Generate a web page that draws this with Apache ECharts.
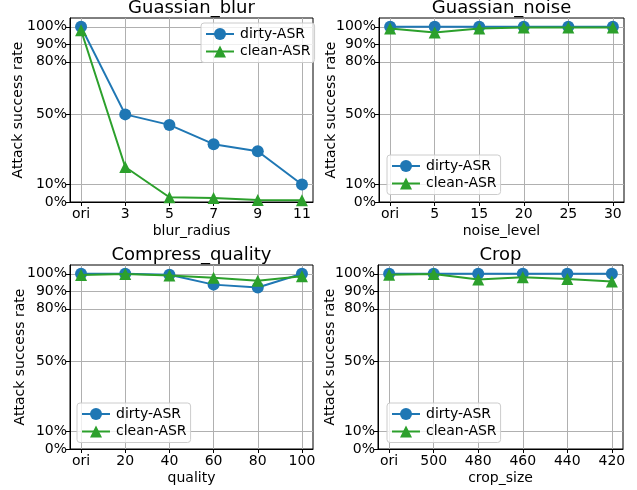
<!DOCTYPE html>
<html><head><meta charset="utf-8">
<script src="https://cdn.jsdelivr.net/npm/echarts@6/dist/echarts.min.js"></script>
<style>html,body{margin:0;padding:0;background:#fff}#c{width:637px;height:490px}</style>
</head><body><div id="c"></div>
<script>
// ---- data ----
const titles = ['Guassian_blur', 'Guassian_noise', 'Compress_quality', 'Crop'];
const xNames = ['blur_radius', 'noise_level', 'quality', 'crop_size'];
const seriesNames = ['dirty-ASR', 'clean-ASR'];
const blurLabels = ['ori', '3', '5', '7', '9', '11'];
const noiseLabels = ['ori', '5', '15', '20', '25', '30'];
const qualityLabels = ['ori', '20', '40', '60', '80', '100'];
const cropLabels = ['ori', '500', '480', '460', '440', '420'];
const blurDirty = [1.00, 0.50, 0.44, 0.33, 0.29, 0.10];
const blurClean = [0.98, 0.20, 0.027, 0.023, 0.012, 0.010];
const noiseDirty = [1.0, 1.0, 1.0, 1.0, 1.0, 1.0];
const noiseClean = [0.99, 0.967, 0.99, 0.996, 0.996, 0.996];
const qualityDirty = [1.0, 1.0, 0.994, 0.938, 0.922, 1.0];
const qualityClean = [0.993, 0.998, 0.99, 0.977, 0.96, 0.986];
const cropDirty = [1.0, 1.0, 1.0, 1.0, 1.0, 1.0];
const cropClean = [0.994, 0.998, 0.967, 0.98, 0.97, 0.956];
const yTicks = [0, 0.1, 0.5, 0.8, 0.9, 1.0];

// ---- layout / style ----
const FONT = 'DejaVu Sans';
const panels = [
  { labels: blurLabels, dirty: blurDirty, clean: blurClean,
    grid: { left: 70, top: 18, width: 243, height: 184 }, yGap: 45, legend: { left: 201, top: 23 } },
  { labels: noiseLabels, dirty: noiseDirty, clean: noiseClean,
    grid: { left: 379, top: 18, width: 245, height: 184 }, yGap: 41, legend: { left: 387, top: 155 } },
  { labels: qualityLabels, dirty: qualityDirty, clean: qualityClean,
    grid: { left: 70, top: 265, width: 243, height: 184 }, yGap: 42.5, legend: { left: 77, top: 403 } },
  { labels: cropLabels, dirty: cropDirty, clean: cropClean,
    grid: { left: 378, top: 265, width: 245, height: 184 }, yGap: 40.5, legend: { left: 387, top: 403 } }
];
const BLUE = '#1f77b4', GREEN = '#2ca02c';
const xIdx = [0, 1, 2, 3, 4, 5];

const grids = [], xAxes = [], yAxes = [], series = [], legends = [], graphics = [];
panels.forEach((p, i) => {
  grids.push(Object.assign({ show: true, borderColor: '#000', borderWidth: 1, backgroundColor: 'transparent' }, p.grid));
  xAxes.push({
    type: 'value', gridIndex: i, min: -0.25, max: 5.25,
    name: xNames[i], nameLocation: 'middle', nameGap: 22, nameMoveOverlap: false,
    nameTextStyle: { fontFamily: FONT, fontSize: 14, color: '#000' },
    axisLine: { show: true, onZero: false, lineStyle: { color: '#000', width: 1 } },
    axisTick: { show: true, length: 4, customValues: xIdx, lineStyle: { color: '#000' } },
    axisLabel: { customValues: xIdx, margin: 5, fontFamily: FONT, fontSize: 14, color: '#000',
      formatter: v => p.labels[Math.round(v)] },
    splitLine: { show: true, lineStyle: { color: '#b0b0b0', width: 1 } }
  });
  yAxes.push({
    type: 'value', gridIndex: i, min: 0, max: 1.05,
    name: 'Attack success rate', nameLocation: 'middle', nameGap: p.yGap, nameMoveOverlap: false,
    nameTextStyle: { fontFamily: FONT, fontSize: 14, color: '#000' },
    axisLine: { show: true, onZero: false, lineStyle: { color: '#000', width: 1 } },
    axisTick: { show: true, length: 4, customValues: yTicks, lineStyle: { color: '#000' } },
    axisLabel: { customValues: yTicks, margin: 3, fontFamily: FONT, fontSize: 14, color: '#000',
      formatter: v => Math.round(v * 100) + '%' },
    splitLine: { show: true, lineStyle: { color: '#b0b0b0', width: 1 } }
  });
  [[p.dirty, BLUE, 'circle'], [p.clean, GREEN, 'triangle']].forEach(([vals, col, sym], k) => {
    series.push({
      type: 'line', name: seriesNames[k], xAxisIndex: i, yAxisIndex: i,
      data: vals.map((v, j) => [xIdx[j], v]),
      symbol: sym, symbolSize: 12, showAllSymbol: true,
      lineStyle: { color: col, width: 2 },
      itemStyle: { color: col, borderWidth: 0 },
      z: 2 + k, animation: false
    });
  });
  legends.push({
    data: seriesNames, orient: 'vertical', left: p.legend.left, top: p.legend.top,
    itemWidth: 28, itemHeight: 15, itemGap: 3.5, selectedMode: false,
    padding: [4, 4, 4, 4],
    backgroundColor: 'rgba(255,255,255,0.8)', borderColor: '#cccccc', borderWidth: 1, borderRadius: 3,
    textStyle: { fontFamily: FONT, fontSize: 14, color: '#000', padding: [0, 0, 0, 1] }
  });
  graphics.push({
    type: 'text', x: p.grid.left + p.grid.width / 2, y: p.grid.top - 10,
    style: { text: titles[i], fontFamily: FONT, fontSize: 18, fill: '#000', textAlign: 'center', textVerticalAlign: 'middle' }
  });
});

const chart = echarts.init(document.getElementById('c'), null, { renderer: 'canvas' });
chart.setOption({
  animation: false,
  backgroundColor: '#fff',
  grid: grids, xAxis: xAxes, yAxis: yAxes, series: series, legend: legends,
  graphic: graphics
});
</script>
</body></html>
